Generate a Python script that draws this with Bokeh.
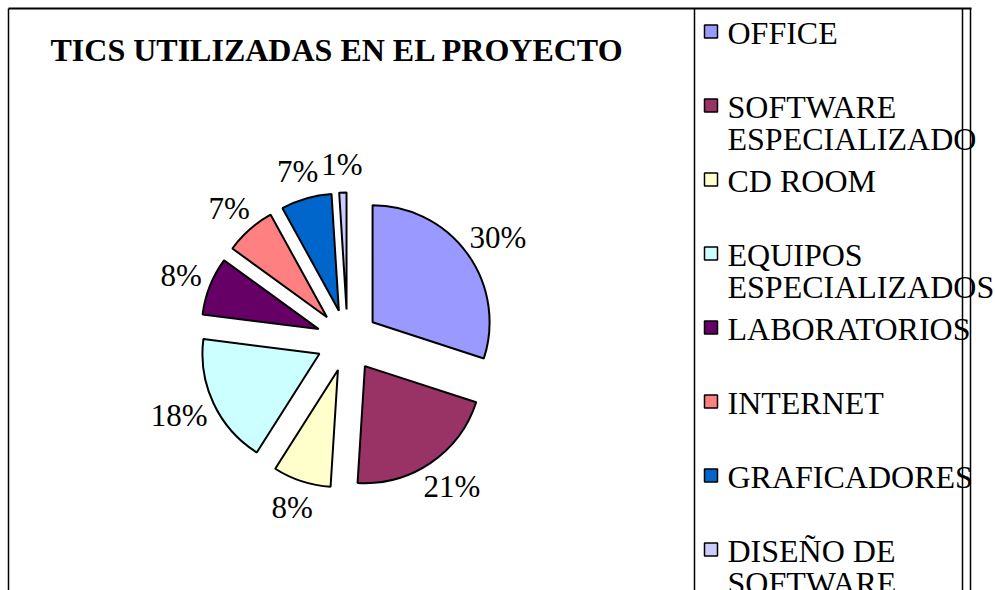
import math
from bokeh.plotting import figure
from bokeh.models import ColumnDataSource, Range1d
from bokeh.core.properties import value
from bokeh.embed import file_html
from bokeh.resources import INLINE

# ---- data ----
title = "TICS UTILIZADAS EN EL PROYECTO"
categories = ["OFFICE", "SOFTWARE\nESPECIALIZADO", "CD ROOM", "EQUIPOS\nESPECIALIZADOS",
              "LABORATORIOS", "INTERNET", "GRAFICADORES", "DISEÑO DE\nSOFTWARE"]
shares = [30, 21, 8, 18, 8, 7, 7, 1]
colors = ["#9999FF", "#993366", "#FFFFCC", "#CCFFFF", "#660066", "#FF8080", "#0066CC", "#CCCCFF"]

# ---- layout (page pixels, y measured from the top) ----
W, H = 995, 590
def Y(top):
    return H - top

cx, cy = 347, Y(340)
R = 117
explode = 31
label_r = 165
FONT = value("Times New Roman")
LABEL_PX = 31

p = figure(width=W, height=H, output_backend="svg", toolbar_location=None,
           x_range=Range1d(0, W), y_range=Range1d(0, H),
           x_axis_location=None, y_axis_location=None, min_border=0,
           outline_line_color=None, tools="")
p.grid.visible = False
p.background_fill_color = "white"

total = float(sum(shares))
xs, ys, sa, ea, lx, ly, lt = [], [], [], [], [], [], []
acc = 0.0
for s in shares:
    t0 = acc / total * 2 * math.pi
    acc += s
    t1 = acc / total * 2 * math.pi
    tm = (t0 + t1) / 2
    dx, dy = math.sin(tm), math.cos(tm)
    xs.append(cx + explode * dx)
    ys.append(cy + explode * dy)
    sa.append(math.pi / 2 - t0)
    ea.append(math.pi / 2 - t1)
    txt = f"{round(s / total * 100)}%"
    half_w = 0.45 * LABEL_PX * len(txt) / 2.0
    half_h = 11
    lx.append(cx + label_r * dx + dx * half_w)
    ly.append(cy + label_r * dy + dy * half_h)
    lt.append(txt)

src = ColumnDataSource(dict(x=xs, y=ys, start=sa, end=ea, color=colors))
p.wedge(x="x", y="y", radius=R, start_angle="start", end_angle="end", direction="clock",
        fill_color="color", line_color="black", line_width=2, source=src)

p.text(x=lx, y=ly, text=lt, text_font=FONT, text_font_size=value(f"{LABEL_PX}px"),
       text_align="center", text_baseline="middle", text_color="black")

# title
p.text(x=[50], y=[Y(49)], text=[title], text_font=FONT, text_font_size=value("32px"),
       text_font_style="bold", text_baseline="middle", text_color="black")

# legend
mx, my, tx, ty, tt = [], [], [], [], []
for i, c in enumerate(categories):
    mx.append(710.5)
    my.append(Y(31 + 74 * i))
    for j, line in enumerate(c.split("\n")):
        tx.append(727)
        ty.append(Y(32.5 + 74 * i + 31.5 * j))
        tt.append(line)
p.rect(x=mx, y=my, width=13, height=13, fill_color=colors, line_color="black", line_width=1.5)
p.text(x=tx, y=ty, text=tt, text_font=FONT, text_font_size=value("32px"),
       text_baseline="middle", text_color="black")

# borders (open at the bottom, as in the reference crop)
p.segment(x0=[8, 8, 694, 962, 970], y0=[Y(8), Y(8), Y(8), Y(8), Y(8)],
          x1=[971, 8, 694, 962, 970], y1=[Y(8), 0, 0, 0, 0],
          line_color="black", line_width=[2, 1.5, 1.5, 1.5, 1.5])

open("out.html", "w").write(file_html(p, INLINE))
